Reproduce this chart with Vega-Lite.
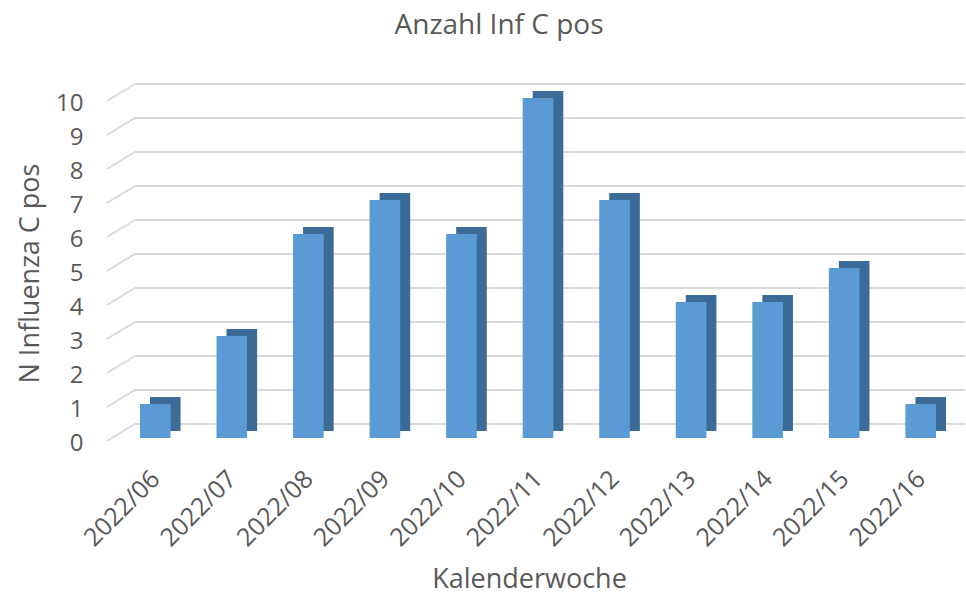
{
  "$schema": "https://vega.github.io/schema/vega-lite/v6.json",
  "width": 842,
  "height": 340,
  "autosize": {"type": "none"},
  "padding": {"left": 117, "top": 98, "right": 7, "bottom": 157},
  "background": "white",
  "title": {
    "text": "Anzahl Inf C pos",
    "fontSize": 28,
    "font": "Open Sans",
    "fontWeight": "normal",
    "color": "#595959",
    "anchor": "middle",
    "frame": "group",
    "baseline": "alphabetic",
    "dx": -39,
    "offset": 21
  },
  "datasets": {
    "bars": [
      {"kw": "2022/06", "n": 1},
      {"kw": "2022/07", "n": 3},
      {"kw": "2022/08", "n": 6},
      {"kw": "2022/09", "n": 7},
      {"kw": "2022/10", "n": 6},
      {"kw": "2022/11", "n": 10},
      {"kw": "2022/12", "n": 7},
      {"kw": "2022/13", "n": 4},
      {"kw": "2022/14", "n": 4},
      {"kw": "2022/15", "n": 5},
      {"kw": "2022/16", "n": 1}
    ],
    "grid": [
      {"v": 0}, {"v": 1}, {"v": 2}, {"v": 3}, {"v": 4}, {"v": 5},
      {"v": 6}, {"v": 7}, {"v": 8}, {"v": 9}, {"v": 10}
    ]
  },
  "layer": [
    {
      "data": {"name": "grid"},
      "mark": {"type": "rule", "color": "#d9d9d9", "strokeWidth": 2, "xOffset": -5, "x2Offset": 29, "yOffset": -14, "y2Offset": -14, "clip": false},
      "encoding": {
        "y": {
          "field": "v",
          "type": "quantitative",
          "scale": {"domain": [0, 10], "nice": false},
          "axis": {
            "title": "N Influenza C pos",
            "titleFont": "Open Sans",
            "titleFontSize": 27,
            "titleFontWeight": "normal",
            "titleColor": "#595959",
            "titleX": -87,
            "titleY": 175,
            "titleBaseline": "middle",
            "titleAnchor": "middle",
            "values": [0, 1, 2, 3, 4, 5, 6, 7, 8, 9, 10],
            "tickCount": 11,
            "labelOverlap": false,
            "labelFont": "Open Sans",
            "labelFontSize": 24,
            "labelColor": "#595959",
            "labelPadding": 34,
            "labelOffset": 5,
            "domain": false,
            "ticks": false,
            "grid": false
          }
        },
        "y2": {"field": "v"},
        "x": {
          "datum": "2022/06",
          "type": "nominal",
          "bandPosition": 0,
          "scale": {
            "domain": ["2022/06", "2022/07", "2022/08", "2022/09", "2022/10", "2022/11", "2022/12", "2022/13", "2022/14", "2022/15", "2022/16"],
            "paddingInner": 0.6,
            "paddingOuter": 0.3
          },
          "axis": {
            "title": "Kalenderwoche",
            "titleFont": "Open Sans",
            "titleFontSize": 27,
            "titleFontWeight": "normal",
            "titleColor": "#595959",
            "titleX": 412,
            "titleY": 141,
            "titleAlign": "center",
            "titleBaseline": "middle",
            "labelAngle": -45,
            "labelFont": "Open Sans",
            "labelFontSize": 25,
            "labelColor": "#595959",
            "labelPadding": 28,
            "labelOffset": -8,
            "domain": false,
            "ticks": false,
            "grid": false
          }
        },
        "x2": {"datum": "2022/16", "bandPosition": 1}
      }
    },
    {
      "data": {"name": "grid"},
      "mark": {"type": "rule", "color": "#d9d9d9", "strokeWidth": 2, "xOffset": -33, "x2Offset": -5, "yOffset": 3, "y2Offset": -14, "clip": false},
      "encoding": {
        "y": {"field": "v", "type": "quantitative"},
        "y2": {"field": "v"},
        "x": {"datum": "2022/06", "type": "nominal", "bandPosition": 0},
        "x2": {"datum": "2022/06", "bandPosition": 0}
      }
    },
    {
      "data": {"name": "bars"},
      "mark": {"type": "bar", "color": "#3d6b98", "width": {"band": 1}, "xOffset": 10, "yOffset": -7, "y2Offset": -7},
      "encoding": {
        "x": {"field": "kw", "type": "nominal", "sort": null},
        "y": {"field": "n", "type": "quantitative"}
      }
    },
    {
      "data": {"name": "bars"},
      "mark": {"type": "bar", "color": "#5b9bd5", "width": {"band": 1}},
      "encoding": {
        "x": {"field": "kw", "type": "nominal", "sort": null},
        "y": {"field": "n", "type": "quantitative"}
      }
    }
  ],
  "config": {"view": {"stroke": null}}
}
